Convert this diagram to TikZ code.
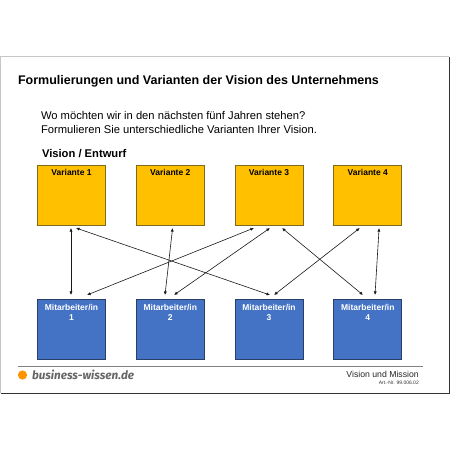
\documentclass[tikz,border=0pt]{standalone}
\usepackage{fontspec}
\setmainfont{Liberation Sans}
\newfontfamily\logofont{Fira Sans}
\usetikzlibrary{calc,arrows.meta}
\definecolor{vy}{HTML}{FFC000}
\definecolor{mb}{HTML}{4472C4}
\definecolor{vyb}{HTML}{7F6A20}
\definecolor{mbb}{HTML}{2A3F66}
\tikzset{
 x=1pt,y=-1pt,
 vbox/.style={draw=vyb,line width=.8pt,fill=vy,minimum width=68pt,minimum height=60pt,inner sep=0,outer sep=0,anchor=north west,
   label={[anchor=north,font=\bfseries\fontsize{8.5}{10}\selectfont,text=black,yshift=-3.3pt,inner sep=1pt]north:#1}},
 mbox/.style={draw=mbb,line width=.8pt,fill=mb,minimum width=68pt,minimum height=60pt,inner sep=0,outer sep=0,anchor=north west,
   label={[anchor=north,align=center,font=\bfseries\fontsize{8.5}{10.5}\selectfont,text=white,yshift=-3.3pt,inner sep=1pt]north:#1}},
 link/.style={draw=black!90,line width=.6pt,{Latex[length=3.6pt,width=3.2pt]}-{Latex[length=3.6pt,width=3.2pt]}},
 txt/.style={inner sep=0,outer sep=0,anchor=base west},
}
\begin{document}
\begin{tikzpicture}
\useasboundingbox (0,0) rectangle (450,450);
\fill[white] (0,0) rectangle (450,450);
\draw[gray!45,line width=.8pt] (.5,393) -- (.5,56.5) -- (449,56.5);
\draw[black!80,line width=.8pt] (.5,393.3) -- (449,393.3) -- (449,56.5);
\node[txt,font=\bfseries\fontsize{12.5}{15}\selectfont] (title) at (18,84.5) {Formulierungen und Varianten der Vision des Unternehmens};
\node[txt,font=\fontsize{11.2}{14}\selectfont] (q1) at (41,119) {Wo möchten wir in den nächsten fünf Jahren stehen?};
\node[txt,font=\fontsize{11.2}{14}\selectfont] (q2) at (41,133) {Formulieren Sie unterschiedliche Varianten Ihrer Vision.};
\node[txt,font=\bfseries\fontsize{11.2}{14}\selectfont] (vis) at (42,157) {Vision / Entwurf};
\node[vbox={Variante 1}] (v1) at (37.5,165) {};
\node[vbox={Variante 2}] (v2) at (136.3,165) {};
\node[vbox={Variante 3}] (v3) at (235,165) {};
\node[vbox={Variante 4}] (v4) at (333.8,165) {};
\node[mbox={Mitarbeiter/in\\1}] (m1) at (37.5,299.5) {};
\node[mbox={Mitarbeiter/in\\2}] (m2) at (136.3,299.5) {};
\node[mbox={Mitarbeiter/in\\3}] (m3) at (235,299.5) {};
\node[mbox={Mitarbeiter/in\\4}] (m4) at (333.8,299.5) {};
\path[link] ($(v1.south)+(-.5,3)$) -- ($(m1.north)+(-.5,-4.5)$);
\path[link] ($(v1.south)+(4.5,3)$) -- ($(m3.north)+(1,-4.5)$);
\path[link] ($(v2.south)+(2.3,3)$) -- ($(m2.north)+(-5.3,-4.5)$);
\path[link] ($(v3.south)+(-15,3)$) -- ($(m1.north)+(15.5,-4.5)$);
\path[link] ($(v3.south)+(1,3)$) -- ($(m2.north)+(3.7,-4.5)$);
\path[link] ($(v3.south)+(13,3)$) -- ($(m4.north)+(-4.8,-4.5)$);
\path[link] ($(v4.south)+(-8,3)$) -- ($(m3.north)+(5,-4.5)$);
\path[link] ($(v4.south)+(11.3,3)$) -- ($(m4.north)+(7.2,-4.5)$);
\draw[gray,line width=.7pt] (18,366.3) -- (423,366.3);
\fill[orange!85!yellow] (22.5,375) circle (4.6);
\node[txt,font=\logofont\bfseries\itshape\fontsize{11.7}{13}\selectfont,text=black!60] (logo) at (32,379.5) {business-wissen.de};
\node[inner sep=0,anchor=base east,font=\fontsize{8.7}{9}\selectfont,text=black!85] (vm) at (419,377) {Vision und Mission};
\node[inner sep=0,anchor=base east,font=\fontsize{5}{6}\selectfont,text=black!80] (art) at (419,384.5) {Art.-Nr. 99.006.02};
\end{tikzpicture}
\end{document}
